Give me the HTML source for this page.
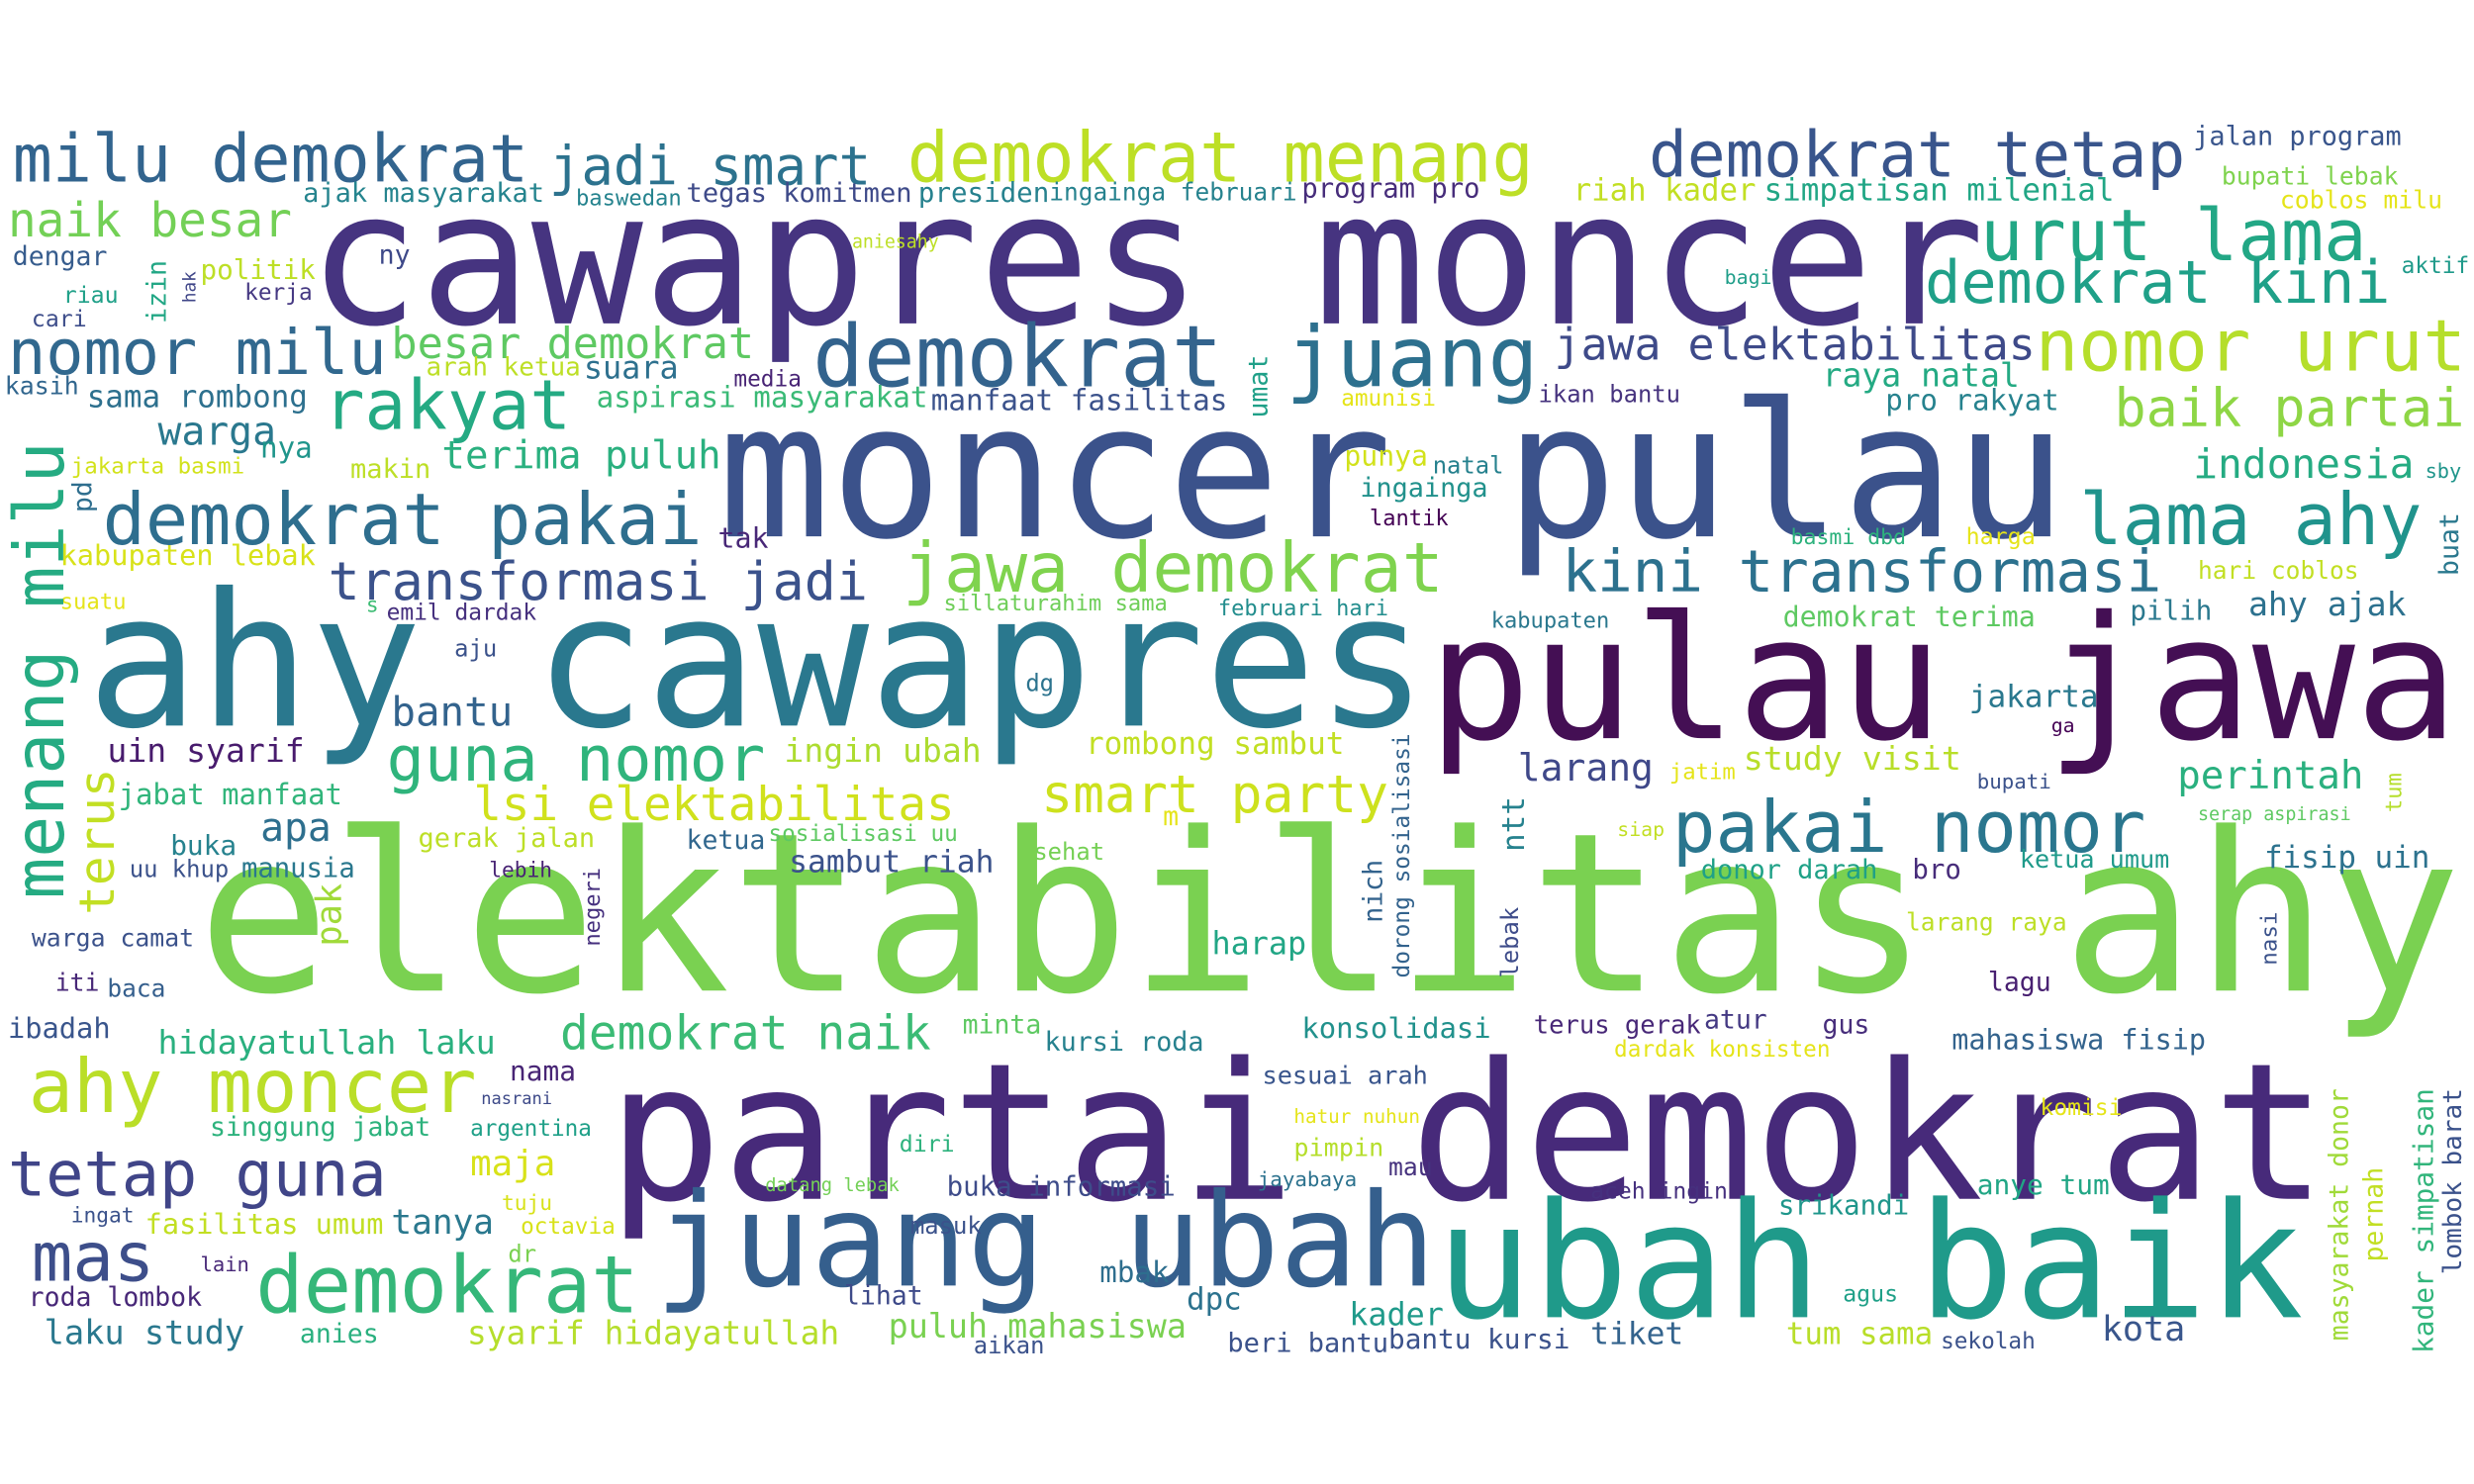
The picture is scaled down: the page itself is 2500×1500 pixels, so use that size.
<!DOCTYPE html>
<html>
<head>
<meta charset="utf-8">
<style>
html,body{margin:0;padding:0;background:#fff;}
svg{display:block;}
text{font-family:"DejaVu Sans Mono","Liberation Mono",monospace;}
</style>
</head>
<body>
<svg id="cloud" width="2500" height="1500" viewBox="0 0 1568 940.8" xmlns="http://www.w3.org/2000/svg">
<rect x="0" y="0" width="1568" height="941" fill="#ffffff"/>
</svg>
<script>
// horizontal words: [text, xLeft, xRight, baseline, color]
const hWords = [
["cawapres moncer",195,1258,205,"#463480"],
["moncer pulau",455,1310,340,"#3b528b"],
["ahy cawapres",55,905,460,"#2a788e"],
["pulau jawa",905,1558,468,"#440f54"],
["elektabilitas ahy",125,1560,628,"#7ad151"],
["partai demokrat",385,1475,760,"#472a7a"],
["juang ubah",415,910,815,"#355f8d"],
["ubah baik",910,1460,835,"#1f9a8a"],
["milu demokrat",8,335,115,"#32648e"],
["jadi smart",348,552,117,"#2c728e"],
["demokrat menang",575,972,115,"#bddf26"],
["demokrat tetap",1045,1385,112,"#39558c"],
["naik besar",5,185,150,"#73d056"],
["urut lama",1255,1500,165,"#22a785"],
["demokrat kini",1220,1515,192,"#1fa088"],
["nomor milu",5,245,237,"#31688e"],
["besar demokrat",248,478,227,"#5ec962"],
["demokrat",515,775,245,"#33638d"],
["juang",815,975,245,"#2d708e"],
["jawa elektabilitas",985,1290,228,"#3e4a89"],
["nomor urut",1290,1563,235,"#b5de2b"],
["rakyat",205,362,272,"#24aa83"],
["demokrat pakai",65,445,345,"#2e6e8e"],
["transformasi jadi",208,550,380,"#3b528b"],
["jawa demokrat",572,915,375,"#7fd34e"],
["kini transformasi",990,1370,375,"#2c718e"],
["lama ahy",1318,1535,345,"#20938c"],
["baik partai",1340,1562,270,"#8ed645"],
["indonesia",1390,1530,303,"#25ab82"],
["guna nomor",245,485,495,"#2fb47c"],
["lsi elektabilitas",300,605,520,"#d0e11c"],
["smart party",660,880,515,"#cde11d"],
["pakai nomor",1060,1360,540,"#2a768e"],
["ahy moncer",18,302,705,"#bade28"],
["tetap guna",5,245,758,"#404588"],
["mas",20,98,812,"#3d4e8a"],
["demokrat",162,405,832,"#35b779"],
["demokrat naik",355,590,665,"#3bbb75"],
["bantu",248,325,460,"#33638d"],
["larang",962,1048,495,"#3f4889"],
["study visit",1105,1243,488,"#b8de29"],
["perintah",1380,1498,500,"#2ab07f"],
["fisip uin",1435,1540,550,"#2c728e"],
["mahasiswa fisip",1237,1398,665,"#33638d"],
["hidayatullah laku",100,314,668,"#2ab07f"],
["syarif hidayatullah",296,532,852,"#b5de2b"],
["laku study",28,155,852,"#2a788e"],
["puluh mahasiswa",563,752,848,"#7ad151"],
["dpc",752,787,830,"#2c728e"],
["kader",855,915,840,"#1f9a8a"],
["tiket",1008,1067,852,"#33638d"],
["tum sama",1132,1225,852,"#b8de29"],
["kota",1332,1385,850,"#39568c"],
["terus gerak",972,1078,655,"#482878"],
["atur",1080,1120,652,"#443983"],
["gus",1155,1185,655,"#472d7b"],
["konsolidasi",825,945,658,"#21918c"],
["kursi roda",662,763,666,"#26818e"],
["minta",610,660,655,"#5ec962"],
["harap",768,828,605,"#21a685"],
["nama",323,365,685,"#482575"],
["maja",298,352,745,"#d8e219"],
["tanya",248,313,782,"#2a788e"],
["diri",570,605,730,"#2db27d"],
["pimpin",820,877,733,"#b5de2b"],
["hatur nuhun",820,900,712,"#e5e419"],
["sesuai arah",800,905,687,"#39558c"],
["buka informasi",600,745,758,"#3e4c8a"],
["datang lebak",485,570,755,"#73d056"],
["mbak",697,741,813,"#2e6e8e"],
["lihat",535,585,827,"#3e4a89"],
["masuk",577,622,782,"#3b528b"],
["aikan",617,662,858,"#3b528b"],
["beri bantu",778,880,857,"#3b528b"],
["bantu kursi",880,995,855,"#3b528b"],
["jayabaya",797,860,752,"#2c728e"],
["mau",880,908,745,"#46327e"],
["aceh ingin",1008,1095,760,"#46307e"],
["srikandi",1127,1210,770,"#1f968b"],
["agus",1168,1203,825,"#1fa088"],
["sekolah",1230,1290,855,"#3b528b"],
["anye tum",1253,1337,757,"#21a685"],
["dardak konsisten",1023,1160,670,"#e5e419"],
["lagu",1260,1300,628,"#482071"],
["larang raya",1208,1310,590,"#bddf26"],
["ketua umum",1280,1375,550,"#1f9a8a"],
["bro",1212,1243,557,"#472c7a"],
["donor darah",1078,1190,557,"#1fa187"],
["siap",1025,1055,530,"#c2df23"],
["serap aspirasi",1393,1490,520,"#5ec962"],
["bupati",1253,1300,500,"#3b528b"],
["jatim",1058,1100,494,"#e5e419"],
["ga",1300,1315,464,"#440154"],
["jakarta",1248,1330,448,"#2a788e"],
["demokrat terima",1130,1290,397,"#5ec962"],
["pilih",1350,1402,393,"#2a788e"],
["ahy ajak",1425,1525,390,"#2c718e"],
["hari coblos",1393,1495,367,"#c2df23"],
["harga",1246,1290,345,"#e5e419"],
["basmi dbd",1135,1208,345,"#2db27d"],
["kabupaten",945,1020,398,"#2a788e"],
["februari hari",772,880,390,"#228d8d"],
["sillaturahim sama",598,740,387,"#6ece58"],
["natal",908,953,300,"#26818e"],
["ingainga",862,943,315,"#21918c"],
["lantik",868,918,333,"#440154"],
["punya",852,905,295,"#d2e21b"],
["amunisi",850,910,257,"#e5e419"],
["ikan bantu",975,1065,255,"#46337e"],
["raya natal",1155,1280,245,"#24aa83"],
["pro rakyat",1195,1305,260,"#26828e"],
["sby",1537,1560,303,"#1f958b"],
["aktif",1522,1565,173,"#1f9a8a"],
["coblos milu",1445,1548,132,"#e5e419"],
["bupati lebak",1408,1520,117,"#7fd34e"],
["jalan program",1390,1522,92,"#39558c"],
["simpatisan milenial",1118,1340,127,"#21a685"],
["riah kader",997,1113,127,"#c2df23"],
["program pro",825,938,125,"#472d7b"],
["ingainga februari",665,822,127,"#26828e"],
["presiden",582,665,128,"#26818e"],
["tegas komitmen",435,578,128,"#3e4a89"],
["baswedan",365,432,130,"#25838e"],
["ajak masyarakat",192,345,128,"#25848e"],
["aniesahy",540,595,157,"#bddf26"],
["dengar",8,68,168,"#365c8d"],
["politik",127,200,177,"#bddf26"],
["ny",240,260,167,"#3e4989"],
["riau",40,75,192,"#1fa088"],
["kerja",155,198,190,"#453882"],
["cari",20,55,207,"#3d4d8a"],
["bagi",1093,1123,180,"#1f9e89"],
["kasih",3,50,250,"#31668e"],
["sama rombong",55,195,258,"#2d708e"],
["warga",100,175,282,"#2a788e"],
["nya",165,198,290,"#1f958b"],
["makin",222,273,303,"#bddf26"],
["jakarta basmi",45,155,300,"#d2e21b"],
["terima puluh",280,457,297,"#2ab07f"],
["suara",370,430,240,"#2d708e"],
["arah ketua",270,368,238,"#bddf26"],
["media",465,508,245,"#482475"],
["aspirasi masyarakat",378,588,258,"#3aba76"],
["manfaat fasilitas",590,778,260,"#3b528b"],
["tak",455,487,347,"#482777"],
["kabupaten lebak",38,200,358,"#d8e219"],
["suatu",38,80,386,"#e5e419"],
["s",232,240,388,"#3dbc74"],
["emil dardak",245,340,393,"#46307e"],
["aju",288,315,416,"#3b528b"],
["uin syarif",68,193,483,"#481b6d"],
["ingin ubah",497,622,483,"#addc30"],
["dg",650,668,438,"#2c738e"],
["rombong sambut",688,852,478,"#c2df23"],
["jabat manfaat",75,217,510,"#31b57b"],
["apa",165,210,533,"#2e6f8e"],
["buka",108,150,542,"#26828e"],
["gerak jalan",265,377,537,"#bddf26"],
["ketua",435,485,538,"#31678e"],
["sosialisasi uu",487,607,533,"#5ec962"],
["m",737,747,523,"#e5e419"],
["sehat",655,700,545,"#75d054"],
["sambut riah",500,630,553,"#3b528b"],
["uu khup",82,145,556,"#3b528b"],
["manusia",153,225,556,"#2a788e"],
["lebih",310,350,556,"#482374"],
["warga camat",20,123,600,"#3b528b"],
["iti",35,63,628,"#482878"],
["baca",68,105,632,"#355f8d"],
["ibadah",5,70,658,"#39558c"],
["singgung jabat",133,273,720,"#2db27d"],
["argentina",298,375,720,"#1fa088"],
["nasrani",305,350,700,"#3e4a89"],
["ingat",45,85,775,"#3b528b"],
["fasilitas umum",92,243,782,"#c2df23"],
["tuju",318,350,767,"#d8e219"],
["octavia",330,390,782,"#d8e219"],
["dr",322,340,800,"#7ad151"],
["lain",127,158,806,"#482878"],
["roda lombok",18,128,828,"#482878"],
["anies",190,240,851,"#2ab07f"],
["komisi",1293,1345,707,"#e5e419"]
];
// vertical words (read bottom-to-top): [text, xBaseline, yBottom, yTop, color]
const vWords = [
["menang milu",40,570,280,"#25ab82"],
["terus",72,580,487,"#c2df23"],
["izin",105,205,165,"#22a785"],
["hak",124,192,172,"#404688"],
["pd",58,325,305,"#2e6e8e"],
["umat",803,265,225,"#1fa088"],
["pak",216,600,560,"#a0da39"],
["negeri",380,600,550,"#46307e"],
["nich",876,585,545,"#33638d"],
["dorong sosialisasi",893,620,465,"#33638d"],
["ntt",966,540,505,"#26828e"],
["lebak",962,620,575,"#3e4c8a"],
["nasi",1443,612,578,"#3b528b"],
["tum",1522,515,490,"#b5de2b"],
["buat",1558,365,325,"#2a788e"],
["masyarakat donor",1488,850,690,"#a0da39"],
["pernah",1510,800,740,"#c2df23"],
["kader simpatisan",1542,858,690,"#31b57b"],
["lombok barat",1560,808,690,"#3b528b"]
];

const svg = document.getElementById('cloud');
const NS = 'http://www.w3.org/2000/svg';
function slug(s){return s.replace(/\s+/g,'-');}
hWords.forEach(w => {
  const [txt,x1,x2,y,col] = w;
  const width = x2 - x1;
  const fs = width / (txt.length * 0.602);
  const t = document.createElementNS(NS,'text');
  t.setAttribute('x', x1);
  t.setAttribute('y', y);
  t.setAttribute('font-size', fs.toFixed(2));
  t.setAttribute('fill', col);
  t.setAttribute('textLength', width);
  t.setAttribute('lengthAdjust', 'spacingAndGlyphs');
  t.textContent = txt;
  
  
  svg.appendChild(t);
});
vWords.forEach(w => {
  const [txt,x,yb,yt,col] = w;
  const len = yb - yt;
  const fs = len / (txt.length * 0.602);
  const t = document.createElementNS(NS,'text');
  t.setAttribute('x', 0);
  t.setAttribute('y', 0);
  t.setAttribute('transform', 'translate(' + x + ',' + yb + ') rotate(-90)');
  t.setAttribute('font-size', fs.toFixed(2));
  t.setAttribute('fill', col);
  t.setAttribute('textLength', len);
  t.setAttribute('lengthAdjust', 'spacingAndGlyphs');
  t.textContent = txt;
  
  
  svg.appendChild(t);
});
</script>
</body>
</html>
